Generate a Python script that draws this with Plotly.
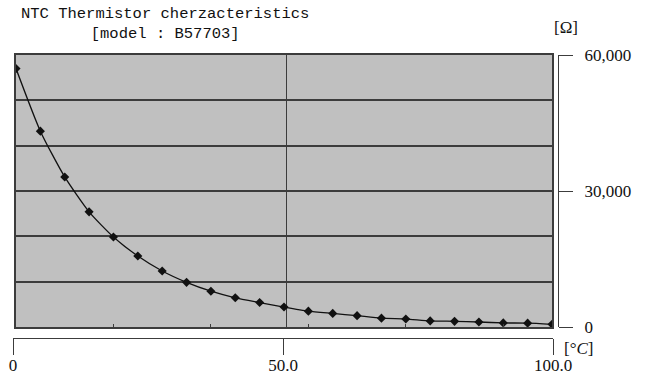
import plotly.graph_objects as go

# ---- data ----
temperature_c = [0, 4.5, 9, 13.5, 18, 22.5, 27, 31.5, 36, 40.5, 45, 49.5,
                 54, 58.5, 63, 67.5, 72, 76.5, 81, 85.5, 90, 94.5, 99]
resistance_ohm = [57000, 43200, 33100, 25400, 19850, 15650, 12350, 9850,
                  7900, 6450, 5400, 4400, 3500, 3000, 2500, 1950, 1750,
                  1350, 1250, 1100, 900, 850, 600]
right_tick_vals = [0, 30000, 60000]
bottom_tick_vals = [0, 50, 100]
bottom_tick_text = ["0", "50.0", "100.0"]
title_lines = ["NTC Thermistor cherzacteristics", "[model : B57703]"]
y_unit = "[Ω]"
x_unit = "[°<i>C</i>]"

W, H = 646, 378
L, R, T, B = 13, 88, 55, 40
pw = W - L - R          # paper width  (13..558)
ph = H - T - B          # paper height (55..338)

def px_x(p):
    return (p - L) / pw

def px_y(p):
    return (H - B - p) / ph

serif = "Liberation Serif, Times New Roman, DejaVu Serif, serif"
mono = "Liberation Mono, Courier New, monospace"
dark = "#3c3c3c"

fig = go.Figure()

fig.add_trace(go.Scatter(
    x=temperature_c, y=resistance_ohm, mode="lines+markers",
    line=dict(color="#111111", width=1.3, shape="spline", smoothing=0.6),
    marker=dict(symbol="diamond", size=7, color="#111111"),
    showlegend=False, hoverinfo="x+y",
))
# dummy traces to create the right value axis and the separate bottom axis
fig.add_trace(go.Scatter(x=[], y=[], xaxis="x", yaxis="y2", showlegend=False, hoverinfo="skip"))
fig.add_trace(go.Scatter(x=[], y=[], xaxis="x2", yaxis="y3", showlegend=False, hoverinfo="skip"))

main_y_dom = [px_y(327), 1]

fig.update_layout(
    width=W, height=H,
    margin=dict(l=L, r=R, t=T, b=B, autoexpand=False),
    paper_bgcolor="white", plot_bgcolor="rgba(0,0,0,0)",
    xaxis=dict(
        domain=[px_x(16), px_x(552)], range=[0, 99], anchor="y", automargin=False,
        showticklabels=False, showgrid=False, zeroline=False,
        tickvals=[18, 36, 54, 72, 90], ticks="inside", ticklen=3,
        tickcolor=dark, tickwidth=1,
        showline=True, mirror=True, linecolor=dark, linewidth=1.5,
        minor=dict(tickvals=[50], showgrid=True, gridcolor=dark, gridwidth=1, ticks=""),
    ),
    yaxis=dict(
        domain=main_y_dom, range=[0, 60000], dtick=10000, anchor="x", automargin=False,
        showticklabels=False, ticks="", showgrid=True, gridcolor=dark,
        gridwidth=1.6, zeroline=False,
        showline=True, mirror=True, linecolor=dark, linewidth=1.5,
    ),
    yaxis2=dict(
        overlaying="y", side="right", anchor="free", position=1.0, automargin=False,
        range=[0, 60000], tickvals=right_tick_vals, tickformat=",",
        ticks="outside", ticklen=14, tickcolor=dark, tickwidth=1,
        showline=True, linecolor=dark, linewidth=1,
        showgrid=False, zeroline=False, ticklabelstandoff=8,
        tickfont=dict(family=serif, size=17, color="#111111"),
    ),
    xaxis2=dict(
        domain=[0, px_x(553)], range=[0, 100], anchor="y3", side="bottom", automargin=False,
        tickvals=bottom_tick_vals, ticktext=bottom_tick_text,
        ticks="outside", ticklen=16, tickcolor=dark, tickwidth=1.2,
        showline=True, linecolor=dark, linewidth=1.2,
        showgrid=False, zeroline=False, ticklabelstandoff=-5,
        tickfont=dict(family=serif, size=17, color="#111111"),
    ),
    yaxis3=dict(domain=[0, main_y_dom[0] * 0.5], range=[0, 1], visible=False,
                anchor="x2", automargin=False),
    shapes=[dict(type="rect", xref="x domain", yref="y domain",
                 x0=0, x1=1, y0=0, y1=1, fillcolor="#c0c0c0",
                 line=dict(width=0), layer="below")],
    annotations=[
        dict(text="<br>".join(title_lines), xref="paper", yref="paper",
             x=px_x(165), y=px_y(24), xanchor="center", yanchor="middle",
             showarrow=False, align="center",
             font=dict(family=mono, size=15.5, color="#111111")),
        dict(text=y_unit, xref="paper", yref="paper",
             x=px_x(566), y=px_y(28), xanchor="center", yanchor="middle",
             showarrow=False, font=dict(family=serif, size=17, color="#111111")),
        dict(text=x_unit, xref="paper", yref="paper",
             x=px_x(578), y=px_y(348), xanchor="center", yanchor="middle",
             showarrow=False, font=dict(family=serif, size=17, color="#111111")),
    ],
)

fig.write_html("out.html",
               config={"displayModeBar": False},
               post_script="document.body.style.margin='0';document.body.style.overflow='hidden';")
